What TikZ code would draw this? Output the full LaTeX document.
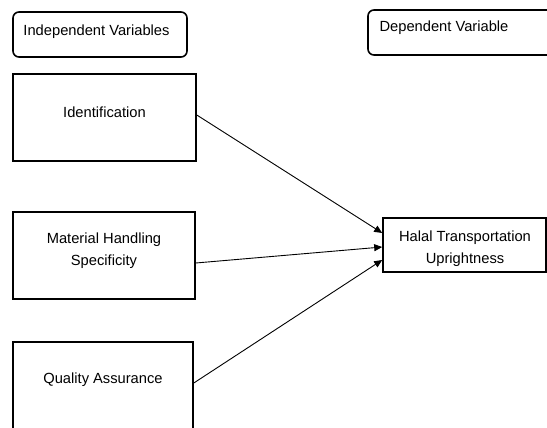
\documentclass[tikz,border=0pt]{standalone}
\usepackage{fontspec}
\setmainfont{Liberation Sans}
\usetikzlibrary{arrows.meta}
\begin{document}
\begin{tikzpicture}[x=1pt,y=-1pt,
  box/.style={draw=black,line width=1.6pt,inner sep=0pt},
  hdr/.style={box,rounded corners=6pt},
  txt/.style={font=\fontsize{14.7}{22}\selectfont,align=center,inner sep=0pt},
  arr/.style={line width=0.9pt,-{Triangle[length=8pt,width=7pt]}}]
\useasboundingbox (0,0) rectangle (547,428);
% header boxes
\node[hdr,minimum width=174pt,minimum height=45pt] (indep) at (100,34.5) {};
\node[txt] (indept) at (96.5,32) {Independent Variables};
\node[hdr,minimum width=260pt,minimum height=45pt] (dep) at (498,32.5) {};
\node[txt] (dept) at (444,28) {Dependent Variable};
% independent variable boxes
\node[box,minimum width=183pt,minimum height=87pt] (ident) at (104.5,117.5) {};
\node[txt] (identt) at (104.5,112) {Identification};
\node[box,minimum width=182pt,minimum height=87pt] (mat) at (104,255.5) {};
\node[txt] (matt) at (104,251) {Material Handling\\Specificity};
\node[box,minimum width=180pt,minimum height=110pt] (qa) at (103,397) {};
\node[txt] (qat) at (103,380) {Quality Assurance};
% dependent box
\node[box,minimum width=163pt,minimum height=54pt] (halal) at (464.5,245) {};
\node[txt] (halalt) at (465,249) {Halal Transportation\\Uprightness};
% arrows
\draw[arr] ([yshift=2.5pt]ident.east) -- ([yshift=12pt]halal.west);
\draw[arr] ([yshift=-7.5pt]mat.east) -- ([yshift=-2pt]halal.west);
\draw[arr] (qa.east |- 0,383) -- ([yshift=-15pt]halal.west);
\end{tikzpicture}
\end{document}
